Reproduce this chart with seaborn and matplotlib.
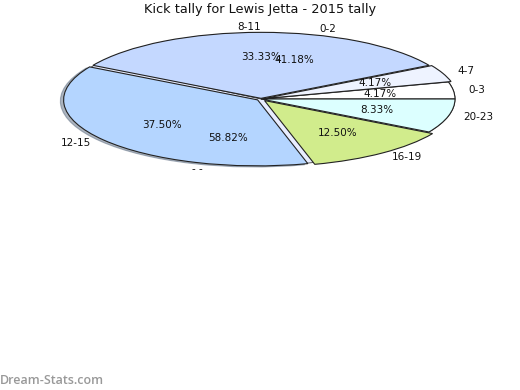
import matplotlib
matplotlib.use("Agg")
import matplotlib.pyplot as plt
from matplotlib.patches import Shadow
import seaborn as sns

sns.set_theme(style="white")
plt.rcParams['font.family'] = ['DejaVu Sans']

# outer pie: 2015 kick tally by quarter-time bucket
labels = ["0-3", "4-7", "8-11", "12-15", "16-19", "20-23"]
kicks = [1, 1, 8, 9, 3, 2]
colors = ["#ffffff", "#eef3ff", "#c4d8ff", "#b4d5ff", "#d1ec8c", "#dcffff"]
explode = [0.0, 0.015, 0.01, 0.022, 0.03, 0.0]

# underlying pie
labels2 = ["0-2", "- -"]
kicks2 = [7, 10]
colors2 = ["#ffffff", "#e8edff"]

fig = plt.figure(figsize=(5.2, 3.9), dpi=100)
ax = fig.add_axes([67/520, 225/390, 388/520, 132/390])
ax.set_aspect('auto')

w2, t2, p2 = ax.pie(kicks2, labels=labels2, colors=colors2, startangle=0,
                    counterclock=True, autopct='%1.2f%%', pctdistance=0.62,
                    labeldistance=1.1,
                    wedgeprops=dict(edgecolor="#444444", linewidth=0.6),
                    textprops=dict(fontsize=7.5, color="#111111"))
for w in w2:
    w.set_zorder(0.5)

w1, t1, p1 = ax.pie(kicks, labels=labels, colors=colors, startangle=0,
                    counterclock=True, explode=explode,
                    autopct='%1.2f%%', pctdistance=0.62, labeldistance=1.08,
                    wedgeprops=dict(edgecolor="#222222", linewidth=0.8),
                    textprops=dict(fontsize=7.5, color="#111111"))
for w in w1:
    w.set_zorder(2)
sh = Shadow(w1[3], -0.012, -0.012, shade=0.5, zorder=1.5)
ax.add_patch(sh)
for t in list(t1) + list(p1) + list(t2) + list(p2):
    t.set_zorder(5)

ax.set_xlim(-1, 1)
ax.set_ylim(-1, 1)
ax.set_aspect('auto')
ax.axis('off')

fig.text(0.5, 1 - 10/390, "Kick tally for Lewis Jetta - 2015 tally",
         ha='center', va='center', fontsize=9.3, color="#111111")
fig.text(0.0, 1 - 380/390, "Dream-Stats.com", ha='left', va='center',
         fontsize=9, color="#999999", fontweight='semibold',
         family=['Open Sans', 'DejaVu Sans'])

fig.savefig("out.png", dpi=100)
